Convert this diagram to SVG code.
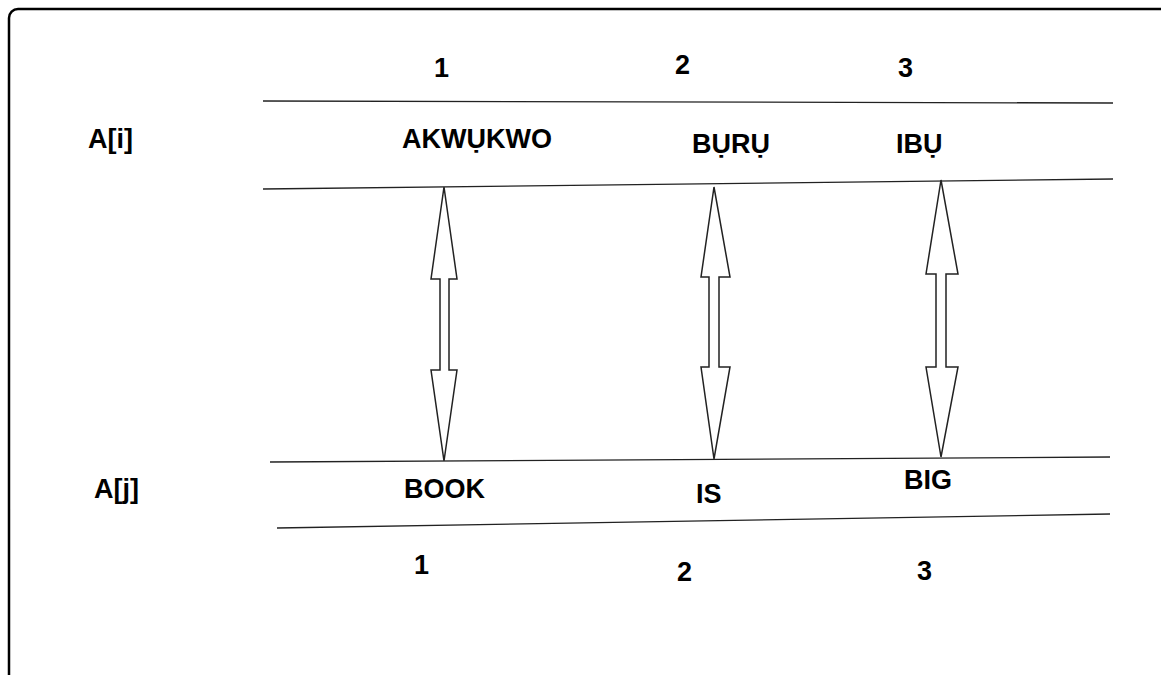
<svg xmlns="http://www.w3.org/2000/svg" width="1161" height="675" viewBox="0 0 1161 675">
<style>
.t{font-family:"Liberation Sans",Arial,sans-serif;font-weight:bold;font-size:27px;fill:#000}
.ln{stroke:#222;stroke-width:1.3;fill:none}
.ar{stroke:#222;stroke-width:1.5;fill:#fff;stroke-linejoin:miter}
</style>
<rect x="0" y="0" width="1161" height="675" fill="#fff"/>
<rect x="9" y="9" width="1165" height="685" rx="9" fill="none" stroke="#000" stroke-width="2.5"/>
<g id="connectors">
<line class="ln" x1="263" y1="101" x2="1113" y2="103"/>
<line class="ln" x1="263" y1="189" x2="1113" y2="179"/>
<line class="ln" x1="270" y1="462" x2="1110" y2="457"/>
<line class="ln" x1="277" y1="528" x2="1110" y2="514"/>
<polygon id="arrow1" class="ar" points="444,187 457,279 449,279 449,370 457,370 444,461 431,370 440,370 440,279 431,279"/>
<polygon id="arrow2" class="ar" points="714,187 730,277 719,277 719,367 730,367 714,459 701,367 709,367 709,277 701,277"/>
<polygon id="arrow3" class="ar" points="941,180 958,274 946,274 946,367 958,367 941,457 926,367 936,367 936,274 926,274"/>
</g>
<g id="top-index">
<text class="t" x="434" y="77">1</text>
<text class="t" x="675" y="74">2</text>
<text class="t" x="898" y="77">3</text>
</g>
<g id="row-i">
<text class="t" x="88" y="148">A[i]</text>
<text class="t" x="402" y="148">AKWỤKWO</text>
<text class="t" x="692" y="153">BỤRỤ</text>
<text class="t" x="896" y="153">IBỤ</text>
</g>
<g id="row-j">
<text class="t" x="94" y="498">A[j]</text>
<text class="t" x="404" y="498">BOOK</text>
<text class="t" x="696" y="503">IS</text>
<text class="t" x="904" y="489">BIG</text>
</g>
<g id="bottom-index">
<text class="t" x="414" y="574">1</text>
<text class="t" x="677" y="581">2</text>
<text class="t" x="917" y="580">3</text>
</g>
</svg>
